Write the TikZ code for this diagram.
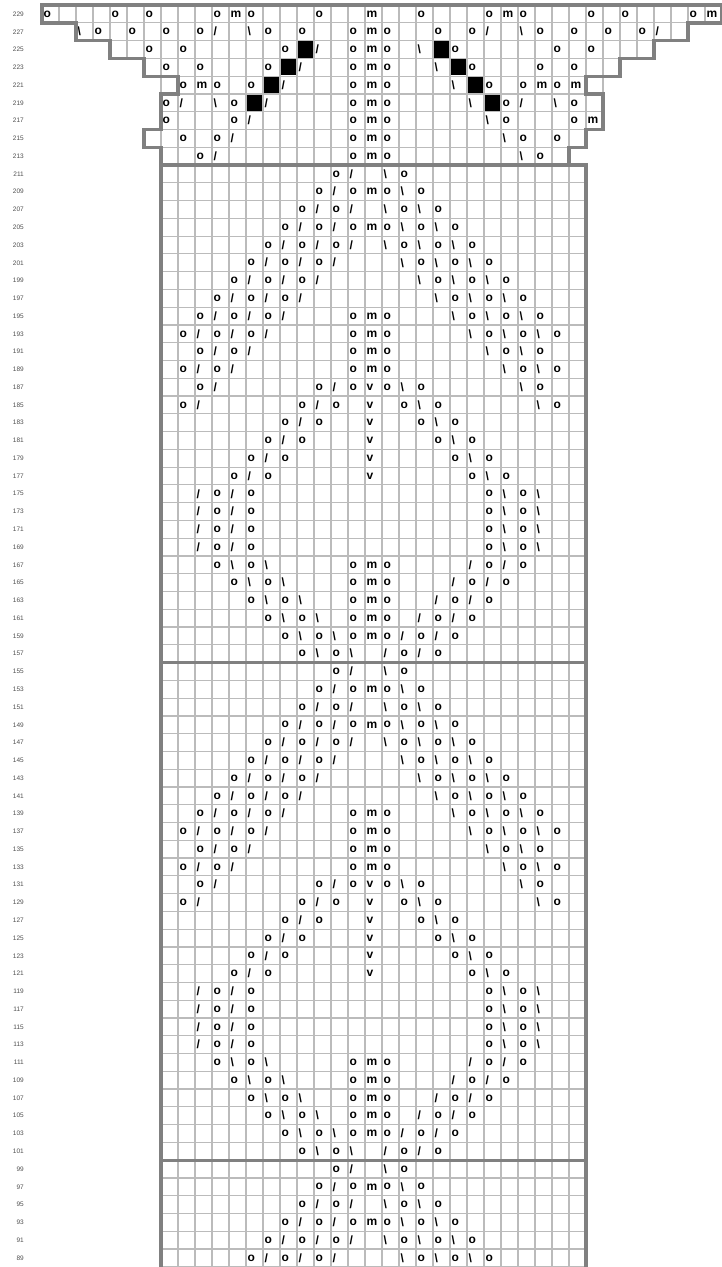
\documentclass[tikz,border=0pt]{standalone}
\usepackage{fontspec}
\setmainfont{Liberation Sans}
\definecolor{gridgray}{RGB}{187,187,187}
\definecolor{bordergray}{RGB}{128,128,128}
\definecolor{labelgray}{RGB}{80,80,80}
\newcommand\symo{o}
\newcommand\symm{m}
\newcommand\symv{v}
\newcommand\syms{/}
\newcommand\symb{\textbackslash}
\newcommand\defpat[2]{\expandafter\def\csname pat#1\endcsname{#2}}
\defpat{0}{10/o,11/s,13/b,14/o}
\defpat{1}{9/o,10/s,11/o,12/m,13/o,14/b,15/o}
\defpat{2}{8/o,9/s,10/o,11/s,13/b,14/o,15/b,16/o}
\defpat{3}{7/o,8/s,9/o,10/s,11/o,12/m,13/o,14/b,15/o,16/b,17/o}
\defpat{4}{6/o,7/s,8/o,9/s,10/o,11/s,13/b,14/o,15/b,16/o,17/b,18/o}
\defpat{5}{5/o,6/s,7/o,8/s,9/o,10/s,14/b,15/o,16/b,17/o,18/b,19/o}
\defpat{6}{4/o,5/s,6/o,7/s,8/o,9/s,15/b,16/o,17/b,18/o,19/b,20/o}
\defpat{7}{3/o,4/s,5/o,6/s,7/o,8/s,16/b,17/o,18/b,19/o,20/b,21/o}
\defpat{8}{2/o,3/s,4/o,5/s,6/o,7/s,11/o,12/m,13/o,17/b,18/o,19/b,20/o,21/b,22/o}
\defpat{9}{1/o,2/s,3/o,4/s,5/o,6/s,11/o,12/m,13/o,18/b,19/o,20/b,21/o,22/b,23/o}
\defpat{10}{2/o,3/s,4/o,5/s,11/o,12/m,13/o,19/b,20/o,21/b,22/o}
\defpat{11}{1/o,2/s,3/o,4/s,11/o,12/m,13/o,20/b,21/o,22/b,23/o}
\defpat{12}{2/o,3/s,9/o,10/s,11/o,12/v,13/o,14/b,15/o,21/b,22/o}
\defpat{13}{1/o,2/s,8/o,9/s,10/o,12/v,14/o,15/b,16/o,22/b,23/o}
\defpat{14}{7/o,8/s,9/o,12/v,15/o,16/b,17/o}
\defpat{15}{6/o,7/s,8/o,12/v,16/o,17/b,18/o}
\defpat{16}{5/o,6/s,7/o,12/v,17/o,18/b,19/o}
\defpat{17}{4/o,5/s,6/o,12/v,18/o,19/b,20/o}
\defpat{18}{2/s,3/o,4/s,5/o,19/o,20/b,21/o,22/b}
\defpat{19}{2/s,3/o,4/s,5/o,19/o,20/b,21/o,22/b}
\defpat{20}{2/s,3/o,4/s,5/o,19/o,20/b,21/o,22/b}
\defpat{21}{2/s,3/o,4/s,5/o,19/o,20/b,21/o,22/b}
\defpat{22}{3/o,4/b,5/o,6/b,11/o,12/m,13/o,18/s,19/o,20/s,21/o}
\defpat{23}{4/o,5/b,6/o,7/b,11/o,12/m,13/o,17/s,18/o,19/s,20/o}
\defpat{24}{5/o,6/b,7/o,8/b,11/o,12/m,13/o,16/s,17/o,18/s,19/o}
\defpat{25}{6/o,7/b,8/o,9/b,11/o,12/m,13/o,15/s,16/o,17/s,18/o}
\defpat{26}{7/o,8/b,9/o,10/b,11/o,12/m,13/o,14/s,15/o,16/s,17/o}
\defpat{27}{8/o,9/b,10/o,11/b,13/s,14/o,15/s,16/o}
\begin{document}
\begin{tikzpicture}[x=1pt,y=-1pt,
  gridline/.style={draw=gridgray,line width=1.2pt},
  outline/.style={draw=bordergray,line width=3.3pt,line join=miter},
  sym/.style={anchor=west,inner sep=0pt,font=\bfseries\fontsize{12}{12}\selectfont},
  blk/.style={fill=black,inner sep=0pt,minimum width=15.5pt,minimum height=16.2pt},
  lbl/.style={anchor=east,inner sep=0pt,text=labelgray,font=\fontsize{6.5}{7}\selectfont}]
\useasboundingbox[fill=white] (0,0) rectangle (722,1267);
% top section cells
\foreach \r/\a/\b in {0/0/39,1/2/37,2/4/35,3/6/33,4/7/32,5/7/32,6/7/32,7/6/31,8/7/30}{
  \foreach \c in {\a,...,\b}{
    \draw[gridline] ({42+17*\c},{5.1+17.77*\r}) rectangle ++(17,17.77);
  }
}
% body grid
\foreach \r in {9,...,71}{
  \draw[gridline] (161,{5.1+17.77*\r}) -- (586,{5.1+17.77*\r});
}
\foreach \c in {7,...,32}{
  \draw[gridline] ({42+17*\c},165.03) -- ({42+17*\c},1268);
}
% black squares
\foreach \r/\c in {2/15,2/23,3/14,3/24,4/13,4/25,5/12,5/26}{
  \node[blk] (k\r-\c) at ({50.5+17*\c},{5.1+17.77*(\r+0.5)}) {};
}
% top section symbols
\foreach \r/\c/\s in {
  0/0/o,0/4/o,0/6/o,0/10/o,0/11/m,0/12/o,0/16/o,0/19/m,0/22/o,0/26/o,0/27/m,0/28/o,0/32/o,0/34/o,0/38/o,0/39/m,
  1/2/b,1/3/o,1/5/o,1/7/o,1/9/o,1/10/s,1/12/b,1/13/o,1/15/o,1/18/o,1/19/m,1/20/o,1/23/o,1/25/o,1/26/s,1/28/b,1/29/o,1/31/o,1/33/o,1/35/o,1/36/s,
  2/6/o,2/8/o,2/14/o,2/16/s,2/18/o,2/19/m,2/20/o,2/22/b,2/24/o,2/30/o,2/32/o,
  3/7/o,3/9/o,3/13/o,3/15/s,3/18/o,3/19/m,3/20/o,3/23/b,3/25/o,3/29/o,3/31/o,
  4/8/o,4/9/m,4/10/o,4/12/o,4/14/s,4/18/o,4/19/m,4/20/o,4/24/b,4/26/o,4/28/o,4/29/m,4/30/o,4/31/m,
  5/7/o,5/8/s,5/10/b,5/11/o,5/13/s,5/18/o,5/19/m,5/20/o,5/25/b,5/27/o,5/28/s,5/30/b,5/31/o,
  6/7/o,6/11/o,6/12/s,6/18/o,6/19/m,6/20/o,6/26/b,6/27/o,6/31/o,6/32/m,
  7/8/o,7/10/o,7/11/s,7/18/o,7/19/m,7/20/o,7/27/b,7/28/o,7/30/o,
  8/9/o,8/10/s,8/18/o,8/19/m,8/20/o,8/28/b,8/29/o}{
  \node[sym] (t\r-\c) at ({43.5+17*\c},{5.1+17.77*(\r+0.5)}) {\csname sym\s\endcsname};
}
% body symbols
\foreach \k in {0,...,61}{
  \pgfmathtruncatemacro\p{mod(\k,28)}
  \pgfmathtruncatemacro\r{\k+9}
  \expandafter\let\expandafter\curlist\csname pat\p\endcsname
  \foreach \j/\s in \curlist{
    \node[sym] (b\r-\j) at ({162.5+17*\j},{5.1+17.77*(\r+0.5)}) {\csname sym\s\endcsname};
  }
}
% outline
\draw[outline] (161,1268) -- (161,147.26) -- (144,147.26) -- (144,129.49) -- (161,129.49)
  -- (161,93.95) -- (178,93.95) -- (178,76.18) -- (144,76.18) -- (144,58.41)
  -- (110,58.41) -- (110,40.64) -- (76,40.64) -- (76,22.87) -- (42,22.87)
  -- (42,5.1) -- (722,5.1) -- (722,22.87) -- (688,22.87) -- (688,40.64)
  -- (654,40.64) -- (654,58.41) -- (620,58.41) -- (620,76.18) -- (586,76.18)
  -- (586,93.95) -- (603,93.95) -- (603,129.49) -- (586,129.49) -- (586,147.26)
  -- (569,147.26) -- (569,165.03) -- (586,165.03) -- (586,1268);
\foreach \yy in {165.03,662.59,1160.15}{
  \draw[outline] (161,\yy) -- (586,\yy);
}
% row labels
\foreach \r in {0,...,70}{
  \pgfmathtruncatemacro\n{229-2*\r}
  \node[lbl] (l\n) at (24,{5.1+17.77*(\r+0.5)}) {\n};
}
\end{tikzpicture}
\end{document}
